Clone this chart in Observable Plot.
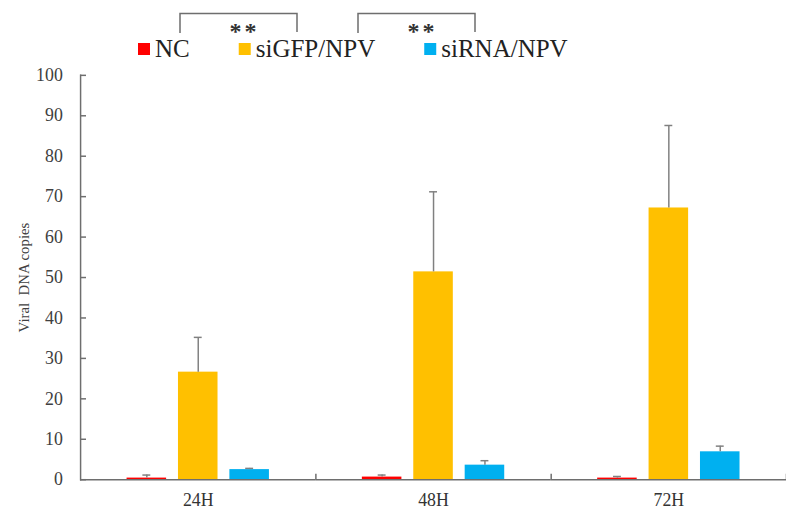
<!DOCTYPE html>
<html>
<head>
<meta charset="utf-8">
<script src="https://cdn.jsdelivr.net/npm/d3@7"></script>
<script src="https://cdn.jsdelivr.net/npm/@observablehq/plot@0.6"></script>
<style>
  html, body { margin: 0; padding: 0; background: #fff; overflow: hidden; font-family: "Liberation Serif", serif; }
  #wrap { width: 786px; height: 515px; position: relative; overflow: hidden; }
  svg { display: block; }
  #wrap svg text { font-family: "Liberation Serif", serif; }
</style>
</head>
<body>
<div id="wrap"></div>
<script>
// ---- data ----
const times = ["24H", "48H", "72H"];
const series = ["NC", "siGFP/NPV", "siRNA/NPV"];
const colors = ["#FF0000", "#FFC000", "#00B0F0"];
const ncMean = [0.4, 0.65, 0.4];
const ncErr = [0.75, 0.5, 0.4];
const gfpMean = [26.6, 51.4, 67.2];
const gfpErr = [8.6, 19.8, 20.4];
const rnaMean = [2.5, 3.6, 6.9];
const rnaErr = [0.3, 1.1, 1.4];
const yTicks = [0, 10, 20, 30, 40, 50, 60, 70, 80, 90, 100];
const yLabel = "Viral  DNA copies";
const signif = ["**", "**"];

const means = [ncMean, gfpMean, rnaMean];
const errs = [ncErr, gfpErr, rnaErr];
const rows = [];
times.forEach((t, i) => series.forEach((s, j) => rows.push({time: t, series: s, value: means[j][i], err: errs[j][i]})));

const FONT = "Liberation Serif";
const AXIS = "#6e6e6e";
const wrap = d3.select("#wrap");

// ---- header: significance brackets + legend ----
const header = wrap.append("svg").attr("width", 786).attr("height", 62)
  .attr("font-family", FONT);

const brackets = [[180, 297], [358, 475]];
brackets.forEach(([a, b], k) => {
  header.append("path")
    .attr("d", `M${a},33V13.5H${b}V32`)
    .attr("fill", "none").attr("stroke", AXIS).attr("stroke-width", 1.5);
  header.append("text")
    .attr("x", (a + b) / 2 + 6).attr("y", 39)
    .attr("text-anchor", "middle")
    .attr("font-family", FONT)
    .attr("font-size", 24).attr("font-weight", "bold")
    .attr("letter-spacing", 3)
    .attr("fill", "#333")
    .text(signif[k]);
});

let lx = 138;
series.forEach((s, j) => {
  header.append("rect").attr("x", lx).attr("y", 43).attr("width", 12).attr("height", 12).attr("fill", colors[j]);
  const t = header.append("text").attr("x", lx + 17).attr("y", 57)
    .attr("font-family", FONT)
    .attr("font-size", 25).attr("fill", "#222").text(s);
  lx += 17 + t.node().getComputedTextLength() + 49;
});

// ---- chart ----
const tickSym = { draw(ctx) { ctx.moveTo(0, 0); ctx.lineTo(0, -6); } };

const chart = Plot.plot({
  width: 795,
  height: 453,
  marginLeft: 81,
  marginRight: 0,
  marginTop: 13,
  marginBottom: 31,
  style: { fontFamily: FONT, fontSize: "18px", color: "#404040", background: "white", overflow: "visible" },
  fx: { domain: times, padding: 0, axis: null },
  x: { domain: series, paddingInner: 0.23, paddingOuter: 0.88, axis: null },
  y: { domain: [0, 100] },
  color: { domain: series, range: colors },
  marks: [
    Plot.barY(rows, { fx: "time", x: "series", y: "value", fill: "series" }),
    Plot.ruleX(rows, { fx: "time", x: "series", y1: "value", y2: d => d.value + d.err, stroke: "#808080", strokeWidth: 1.5 }),
    Plot.tickY(rows, { fx: "time", x: "series", y: d => d.value + d.err, stroke: "#808080", strokeWidth: 1.5, insetLeft: 16, insetRight: 16 }),
    Plot.ruleY([0], { stroke: AXIS, strokeWidth: 1.5 }),
    Plot.frame({ anchor: "left", facetAnchor: "left", stroke: AXIS, strokeWidth: 1.5 }),
    Plot.dot([null], { frameAnchor: "bottom-right", symbol: tickSym, stroke: AXIS, strokeWidth: 1.5, fill: "none" }),
    Plot.axisY({ ticks: yTicks, tickSize: -6, fill: "none", stroke: AXIS, strokeWidth: 1.5, label: null }),
    Plot.axisY({ ticks: yTicks, tickSize: 0, tickPadding: 18, fontSize: 18, fill: "#404040",
      label: yLabel, labelAnchor: "center", labelOffset: 63, labelArrow: "none" }),
    Plot.axisFx({ anchor: "bottom", tickSize: 0, tickPadding: 14, fontSize: 18, fill: "#333", label: null })
  ]
});
d3.select(chart).selectAll("g[aria-label='y-axis label'] text, g[aria-label='y-axis label']").attr("font-size", 15);
wrap.node().appendChild(chart);
</script>
</body>
</html>
